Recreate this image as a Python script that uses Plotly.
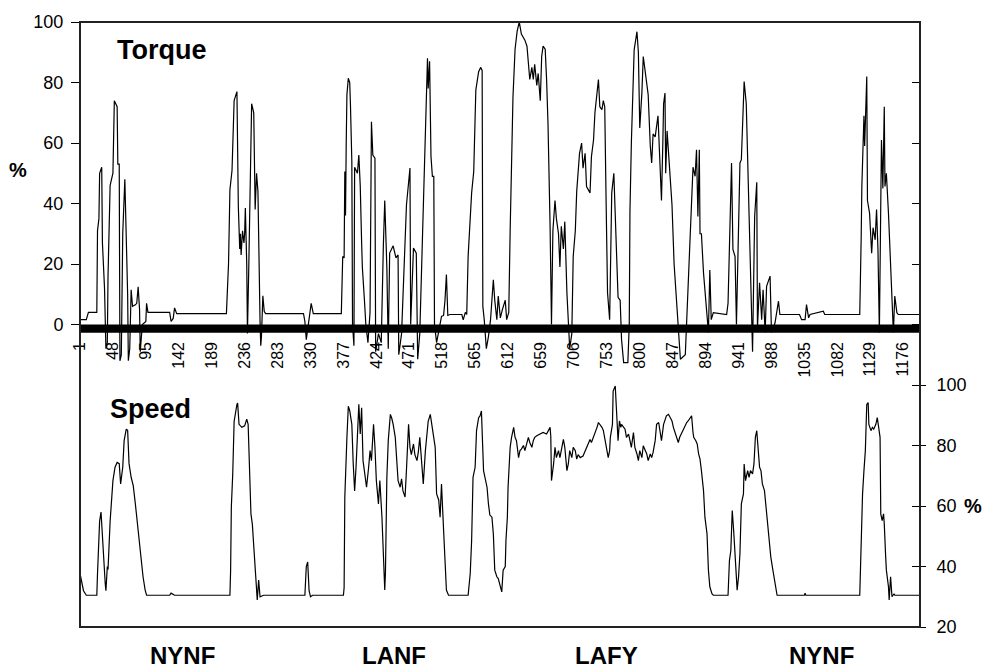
import plotly.graph_objects as go

# ---------------- data ----------------
torque_t = [1, 10, 13, 25, 26, 28, 29, 32, 33, 35, 36, 38, 40, 41, 44, 48, 50, 54, 55, 57, 58, 60, 62, 65, 67, 69, 70, 72, 74, 76, 80, 82, 84, 86, 87, 89, 90, 95, 96, 98,
            129, 131, 134, 136, 139, 210, 211, 213, 215, 218, 221, 225, 227, 229, 230, 231, 233, 235, 236, 237, 239, 240, 242, 244, 246, 249, 251, 253, 255, 258, 259, 260, 262, 264, 266,
            320, 322, 324, 327, 331, 334, 374, 376, 378, 379, 380, 381, 382, 384, 386, 387, 389, 390, 392, 393, 397, 399, 400, 401, 403, 404, 407, 409, 412, 415, 417, 419, 422, 423,
            427, 431, 434, 436, 439, 441, 443, 448, 452, 455, 456, 460, 467, 472, 473, 477, 481, 483, 486, 491, 495, 497, 498, 500, 502, 504, 506, 507, 510, 517, 520, 522, 524, 526,
            529, 546, 548, 551, 553, 555, 560, 563, 566, 570, 573, 575, 576, 578, 581, 584, 587, 591, 593, 596, 598, 601, 604, 608, 610, 613, 615, 617, 619, 622, 625, 628, 631, 636,
            639, 643, 646, 648, 650, 653, 655, 658, 660, 662, 665, 667, 669, 672, 674, 676, 679, 681, 684, 686, 688, 691, 693, 696, 698, 700, 703, 705, 708, 710, 714, 717, 719, 722,
            724, 729, 731, 734, 736, 738, 741, 743, 746, 748, 750, 752, 754, 757, 760, 763, 765, 767, 769, 772, 774, 777, 783, 785, 786, 788, 792, 796, 798, 800, 803, 805, 807, 810,
            812, 815, 817, 819, 822, 826, 831, 833, 834, 836, 837, 839, 842, 846, 849, 853, 855, 858, 865, 867, 871, 874, 876, 879, 881, 883, 885, 886, 888, 891, 893, 895, 898, 900,
            902, 905, 924, 926, 929, 931, 933, 936, 938, 941, 943, 945, 949, 952, 954, 956, 960, 961, 964, 967, 968, 971, 974, 976, 979, 981, 986, 988, 993, 995, 998, 1000, 1028,
            1031, 1036, 1038, 1041, 1043, 1062, 1064, 1114, 1116, 1117, 1120, 1121, 1124, 1125, 1128, 1130, 1131, 1133, 1136, 1138, 1140, 1142, 1144, 1145, 1147, 1149, 1150, 1152,
            1155, 1157, 1160, 1162, 1164, 1167, 1169, 1200]
torque_v = [1.6, 1.6, 4, 4, 31, 35, 50, 52, 27, 15, 12, -8, -6, 16, 46, 50, 74, 72, 53, 53, -12, -10, 30, 48, 28, 10, -12, -8, 11.5, 6, 6.5, 7, 12.5, 5, -9, -4, 0, 1, 7, 4,
            4, 1, 2, 5.5, 3.6, 3.6, 9, 20, 44.5, 51, 74, 77, 39, 25, 30, 23, 31, 27, 30, 38.5, 20, -3, 20, 50, 73, 70, 38, 50, 44, 1, -7, -4, 9.5, 4.3, 3.6,
            3.6, 1, -5, 0, 7, 3.6, 3.6, 22.5, 22, 50.6, 36, 60, 76, 81.4, 80, 73, 54, 0, -7, 52, 50, 56, 51, 46, 27, 19, 8, 0, -6, 4, 67, 56, 55, -9,
            -3, -6, 26, 41, 18.7, -8, 23.6, 26, 22, 23, -10, -3, 39.6, 51.7, 0, 25.3, 23.6, -11.5, -3, 41, 74, 88, 78, 87, 55.5, 49, 49, 0, -6, 2.7, 3, 8, 16.5, 3,
            3.3, 3.3, 1.5, 4, 3.3, 22.5, 43.5, 50.6, 77.5, 83.6, 85, 84, 6, 1.6, -8, -4, 1.6, 14.8, 8, 1.6, 9.4, 2.2, 5, 8, 1.6, 4, 31, 60, 75, 91, 97, 100, 96, 94,
            92, 81, 85, 81, 86, 79, 83, 74, 88.6, 92, 91, 81, 66.5, 32.5, 0, 31, 41, 35, 30, 19, 32.5, 25, 34, 10.5, 0, -8, -3, 22.5, 31, 44, 56.6, 60, 51.7, 56.6,
            45.6, 43.5, 55.5, 61, 70, 74, 81, 72, 71, 74, 72, 40, 10.5, 1.6, 43.5, 50, 34.6, 23.6, 9, 8, -5, -12.6, -12.6, 0, 37.4, 60, 90.8, 96.8, 90, 65, 76.5, 88.6, 85, 79.8,
            76, 59, 53.4, 63, 62, 69, 41, 61, 73, 76.5, 50, 64, 54.5, 39.6, 20, 7, 0, -11.5, -10, 1.6, 26, 42, 52, 49, 57.8, 35.7, 57.8, 30, 30, 17, 11.5, 3.9, -2.6, 18,
            1.6, 3.9, 3.3, 7, 41, 53.4, 24.8, 22.5, 0, 32.5, 53.4, 54.5, 80.3, 73, 55.5, 38, 0, -9, 35.7, 47, -1, 13.8, 1.6, 11.5, -2.6, 12.6, 16, -2.6, 0.5, 3.9, 7.7, 3.3, 3.3,
            1.6, 1.6, 6.6, 2.2, 3.3, 4.4, 3.3, 3.3, 28, 45.6, 69, 59, 82, 41, 36.8, 30, 23.6, 32, 28, 38, 24.8, -2.6, 30, 61, 45, 72, 45.6, 50,
            36.8, 24.8, 7, -2.6, 9.4, 3.9, 3.3, 3.3]

speed_t = [1, 6, 10, 25, 26, 29, 31, 33, 35, 37, 38, 40, 41, 44, 48, 51, 54, 57, 59, 62, 64, 67, 69, 71, 74, 77, 80, 82, 84, 87, 89, 91, 94, 96, 129, 131, 136, 215, 216, 217,
           219, 221, 225, 226, 228, 232, 236, 239, 241, 243, 245, 247, 249, 252, 254, 256, 258, 263, 322, 324, 326, 328, 330, 333, 377, 378, 379, 382, 384, 386, 389, 391, 393,
           395, 397, 399, 401, 403, 405, 408, 410, 413, 415, 417, 420, 422, 424, 427, 429, 432, 434, 436, 437, 439, 441, 444, 446, 448, 451, 453, 455, 458, 460, 462, 465, 467,
           470, 472, 474, 477, 479, 482, 484, 486, 489, 491, 494, 496, 498, 501, 503, 505, 508, 510, 513, 515, 517, 520, 522, 524, 527, 555, 558, 560, 562, 565, 567, 570, 572,
           574, 577, 582, 584, 586, 589, 591, 593, 596, 598, 601, 603, 605, 608, 609, 611, 612, 615, 617, 620, 622, 624, 627, 629, 631, 634, 636, 639, 641, 643, 646, 648, 650,
           653, 658, 662, 667, 670, 672, 673, 674, 677, 679, 681, 684, 686, 689, 691, 693, 696, 698, 700, 703, 705, 708, 710, 712, 715, 719, 724, 727, 729, 731, 734, 736, 739,
           741, 743, 746, 748, 750, 753, 755, 757, 758, 761, 762, 765, 766, 767, 769, 771, 773, 774, 777, 779, 781, 784, 786, 788, 791, 793, 796, 798, 800, 803, 805, 807, 810,
           812, 815, 817, 819, 822, 824, 827, 829, 831, 834, 836, 838, 841, 843, 846, 848, 850, 853, 855, 857, 860, 862, 865, 867, 869, 872, 874, 876, 877, 880, 882, 884, 886,
           888, 891, 893, 896, 898, 900, 903, 905, 926, 928, 930, 932, 934, 936, 937, 939, 941, 943, 945, 948, 949, 951, 954, 956, 958, 961, 963, 965, 967, 968, 971, 973, 975,
           978, 980, 983, 985, 987, 990, 992, 994, 996, 1035, 1036, 1037, 1114, 1115, 1118, 1120, 1122, 1124, 1126, 1127, 1130, 1132, 1134, 1137, 1139, 1141, 1143, 1144, 1146,
           1148, 1149, 1151, 1152, 1155, 1156, 1158, 1160, 1163, 1164, 1200]
speed_v = [37.7, 32, 30.5, 30.5, 37.7, 55, 58, 48.6, 40, 34.4, 32, 40, 39, 55, 68.4, 72.8, 74.4, 74, 67.3, 72.8, 81.6, 85.4, 85, 74, 69.5, 66.7, 60.7, 56.3, 50.8, 45.3, 41,
           36.6, 32.2, 30.5, 30.5, 31.2, 30.5, 30.5, 38.8, 59.6, 70.6, 88, 93.6, 94, 87, 86, 86.5, 88.7, 87, 69.5, 57.4, 54, 47.5, 35.5, 28.9, 35.5, 30, 30.5, 30.5, 40, 41.5, 32,
           30, 30.5, 30.5, 33, 63, 82.7, 93, 91.5, 87, 74, 65, 72.8, 82.7, 93.6, 83.8, 92.5, 75, 70.6, 66.2, 72.8, 78.3, 75, 87, 79.4, 68.4, 60.7, 68.4, 56.3, 45.3, 32.2, 38,
           69.5, 81.6, 90.3, 89, 87, 82.7, 76, 68.4, 66.2, 69, 65, 63, 72, 87, 79.4, 77, 80.5, 77, 75, 78, 82.7, 75, 67.3, 78.3, 82.7, 88, 90.3, 87, 83.8, 79.4, 64, 62,
           56.3, 67.3, 52, 38.8, 32.2, 30.5, 30.5, 37.7, 48.6, 69.5, 72.8, 84.9, 89.2, 89.8, 91.4, 71.7, 66.2, 60.7, 57, 56.3, 50.8, 38.8, 36.6, 36, 33.3, 31.6, 38.8, 40, 48.6,
           56.3, 66.2, 79.4, 82.7, 86, 82.7, 81.6, 76, 78.3, 78.8, 80, 78.3, 81, 82.7, 81, 79.4, 81.6, 82.7, 83.2, 83.8, 84.3, 83.8, 85.4, 86, 83, 68.4, 73.9, 79.4, 76, 78.3,
           76, 80.5, 82, 79.4, 71.7, 73.9, 78.3, 76, 79.4, 78.3, 75.5, 77, 76, 76.5, 79.4, 80.5, 82, 81, 82.7, 83.8, 86, 87.6, 87, 86, 85, 82.7, 79.4, 76, 78.3, 82.7, 87, 98,
           99.7, 95.8, 88.1, 81.6, 88.1, 86, 87, 86, 85.4, 82.7, 83.8, 81.6, 79.4, 84.3, 79.4, 77.2, 75, 78.3, 76, 79.9, 78.8, 77.2, 75, 77.2, 76, 77.7, 81.6, 87, 87.6, 84.9,
           81.6, 87, 88.1, 89.8, 90.3, 89.2, 88.1, 86, 84.3, 82.7, 81, 82.7, 84.3, 85.4, 87, 87.6, 88.1, 89.2, 89.8, 84.3, 82.7, 81.6, 80.5, 77.2, 75.5, 71.7, 65.1, 56.3, 50.8,
           38.8, 33.3, 31, 30.5, 30.5, 42, 45.3, 58.5, 52, 44.3, 38.8, 32.2, 36.6, 44.3, 60.7, 64, 73.9, 68.4, 71.7, 69.5, 71.7, 70.6, 73.9, 82.7, 84.9, 81.6, 72.8, 71.7, 67.3,
           65.1, 59.6, 54.1, 48.6, 43.2, 38.8, 35.5, 32.2, 30.5, 30.5, 31.2, 30.5, 30.5, 38.8, 64, 71.7, 78.3, 93.6, 94.2, 87, 84.9, 86, 85.4, 87, 89.2, 86, 82.7, 57.4, 55.2,
           57.4, 54.1, 43.2, 38.8, 33.3, 28.9, 36.6, 30, 31, 30.5, 30.5]

x_tick_values = list(range(1, 1200, 47))          # 1, 48, 95, ..., 1176
x_tick_labels = [str(v) for v in x_tick_values]
torque_ticks = [0, 20, 40, 60, 80, 100]
speed_ticks = [20, 40, 60, 80, 100]
segment_names = ["NYNF", "LANF", "LAFY", "NYNF"]
segment_centres = [147, 449, 753, 1060]

FONT = "Liberation Sans, Arial, sans-serif"

fig = go.Figure()
fig.add_trace(go.Scatter(x=torque_t, y=torque_v, mode="lines", yaxis="y",
                         line=dict(color="black", width=1.2), showlegend=False))
fig.add_trace(go.Scatter(x=speed_t, y=speed_v, mode="lines", yaxis="y2",
                         line=dict(color="black", width=1.2), showlegend=False))
# an empty trace so that the extra tick-only axis is drawn
fig.add_trace(go.Scatter(x=[None], y=[None], yaxis="y3", showlegend=False))

fig.update_layout(
    width=989, height=672,
    margin=dict(l=80, r=69, t=22, b=45),
    paper_bgcolor="white", plot_bgcolor="white",
    font=dict(family=FONT, color="black"),
    xaxis=dict(range=[1, 1200], tickvals=x_tick_values, ticktext=x_tick_labels,
               tickangle=-90, showgrid=False, zeroline=False, showline=False,
               anchor="free", position=0.478, ticks="", ticklen=0,
               tickfont=dict(size=16, family=FONT, color="black")),
    yaxis=dict(range=[-100, 100], tickvals=torque_ticks, showgrid=False, zeroline=False,
               showline=False, ticks="outside", ticklen=8, tickcolor="black",
               ticklabelstandoff=4,
               tickfont=dict(size=18, family=FONT, color="black")),
    yaxis2=dict(range=[20, 220], overlaying="y", side="right", tickvals=speed_ticks,
                showgrid=False, zeroline=False, showline=False, ticks="outside",
                ticklen=5, tickcolor="black", ticklabelstandoff=7,
                tickfont=dict(size=18, family=FONT, color="black")),
    yaxis3=dict(range=[20, 220], overlaying="y", side="right",
                tickvals=[40, 60, 80, 100, 120, 140, 160, 180, 200],
                showticklabels=False, showgrid=False, zeroline=False, showline=False,
                ticks="inside", ticklen=8, tickcolor="black"),
)

# thick baseline at torque zero and the plot frame
fig.add_shape(type="rect", xref="paper", x0=0, x1=1, yref="y", y0=-2.7, y1=0,
              fillcolor="black", line=dict(width=0), layer="above")
fig.add_shape(type="rect", xref="paper", yref="paper", x0=0, x1=1, y0=0, y1=1,
              line=dict(color="#222", width=2), layer="above")

fig.add_annotation(text="<b>Torque</b>", xref="paper", yref="paper", x=0.042, y=0.954,
                   xanchor="left", yanchor="middle", showarrow=False,
                   font=dict(size=27, family=FONT, color="black"))
fig.add_annotation(text="<b>Speed</b>", xref="paper", yref="paper", x=0.033, y=0.360,
                   xanchor="left", yanchor="middle", showarrow=False,
                   font=dict(size=27, family=FONT, color="black"))
fig.add_annotation(text="<b>%</b>", xref="paper", yref="paper", x=-0.074, y=0.755,
                   xanchor="center", yanchor="middle", showarrow=False,
                   font=dict(size=20, family=FONT, color="black"))
fig.add_annotation(text="<b>%</b>", xref="paper", yref="paper", x=1.063, y=0.200,
                   xanchor="center", yanchor="middle", showarrow=False,
                   font=dict(size=20, family=FONT, color="black"))
for name, centre in zip(segment_names, segment_centres):
    fig.add_annotation(text=f"<b>{name}</b>", xref="x", yref="paper", x=centre, y=-0.022,
                       xanchor="center", yanchor="top", showarrow=False,
                       font=dict(size=24, family=FONT, color="black"))

fig.write_html("out.html")
